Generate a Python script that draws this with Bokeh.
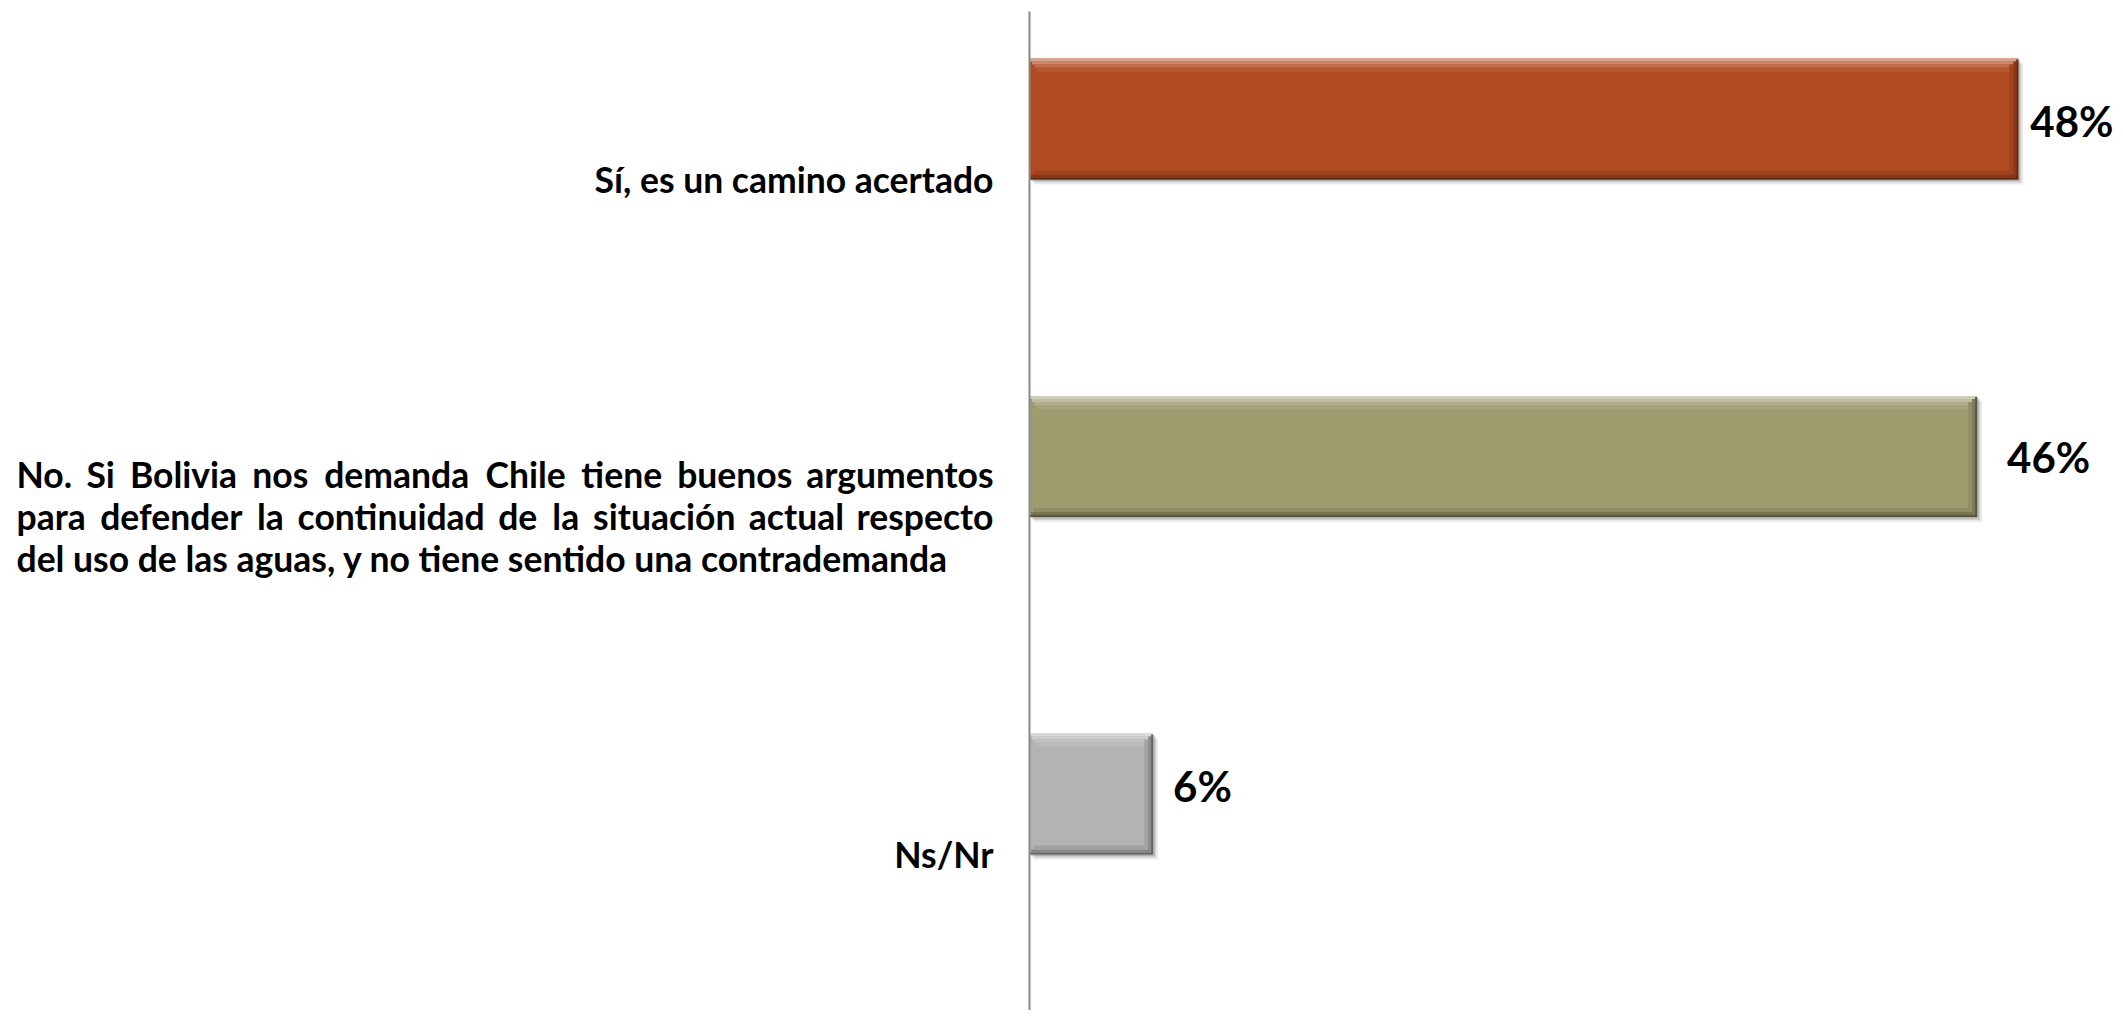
from bokeh.plotting import figure
from bokeh.models import Range1d, ColumnDataSource
from bokeh.core.properties import value
from bokeh.embed import file_html
from bokeh.resources import INLINE

# ---------------- data ----------------
categories = [
    "Sí, es un camino acertado",
    "No. Si Bolivia nos demanda Chile tiene buenos argumentos para defender la continuidad de la situación actual respecto del uso de las aguas, y no tiene sentido una contrademanda",
    "Ns/Nr",
]
category_lines = [
    ["Sí, es un camino acertado"],
    [
        "No. Si Bolivia nos demanda Chile tiene buenos argumentos",
        "para defender la continuidad de la situación actual respecto",
        "del uso de las aguas, y no tiene sentido una contrademanda",
    ],
    ["Ns/Nr"],
]
values = [48, 46, 6]
value_labels = ["48%", "46%", "6%"]
bar_colors = ["#B04A20", "#9E9B6F", "#B3B3B3"]

# ---------------- styling / layout ----------------
FONT = "Lato"
CAT_FS = 35.5
PCT_FS = 42
ORIGIN = 0           # page offset of the figure
W, H = 2123, 1010
PX_X = 20.6          # px per percent unit
PX_Y = 337.5         # px per category band
AXIS_PAGE_X = 1029
CAT0_PAGE_Y = 178.5
xs = -(AXIS_PAGE_X - ORIGIN) / PX_X
xe = xs + W / PX_X
ys_top = (ORIGIN - CAT0_PAGE_Y) / PX_Y
ys_bot = (ORIGIN + H - CAT0_PAGE_Y) / PX_Y

def px_x(v):
    return v / PX_X

def px_y(v):
    return v / PX_Y

def mix(hexc, target, t):
    h = hexc.lstrip("#")
    r, g, b = int(h[0:2], 16), int(h[2:4], 16), int(h[4:6], 16)
    tr, tg, tb = target
    r = round(r + (tr - r) * t)
    g = round(g + (tg - g) * t)
    b = round(b + (tb - b) * t)
    return "#%02x%02x%02x" % (r, g, b)

p = figure(width=W, height=H, output_backend="svg", toolbar_location=None,
           x_axis_location=None, y_axis_location=None,
           x_range=Range1d(xs, xe), y_range=Range1d(ys_bot, ys_top),
           min_border=0, outline_line_color=None, tools="")
p.xgrid.visible = False
p.ygrid.visible = False
p.background_fill_color = "white"
p.border_fill_color = "white"

n = len(values)
idx = list(range(n))
bar_off = -px_y(60)
bar_h = px_y(121)
centers = [i + bar_off for i in idx]

# shadows
for dx, dy, a in [(5, 5, 0.08), (3, 3, 0.12), (1.5, 1.5, 0.15)]:
    p.hbar(y=[c + px_y(dy) for c in centers], height=bar_h,
           left=[px_x(dx) for _ in idx], right=[v + px_x(dx) for v in values],
           fill_color="black", fill_alpha=a, line_color=None)

# main bars
src = ColumnDataSource(dict(y=centers, right=values, color=bar_colors))
p.hbar(y="y", height=bar_h, left=0, right="right", fill_color="color", line_color=None, source=src)

# bevel: top highlight bands
top_bands = [(0, 3, 0.50), (3, 3, 0.34), (6, 3, 0.20), (9, 4, 0.09)]
for off, th, t in top_bands:
    p.hbar(y=[c - bar_h / 2 + px_y(off + th / 2) for c in centers], height=px_y(th),
           left=[px_x(off * 0.8) for _ in idx], right=[v - px_x(off * 0.8) for v in values],
           fill_color=[mix(col, (255, 255, 255), t) for col in bar_colors], line_color=None)
# bottom dark bands
bot_bands = [(0, 2, 0.45), (2, 3, 0.25), (5, 4, 0.10)]
for off, th, t in bot_bands:
    p.hbar(y=[c + bar_h / 2 - px_y(off + th / 2) for c in centers], height=px_y(th),
           left=[px_x(off * 0.8) for _ in idx], right=[v - px_x(off * 0.8) for v in values],
           fill_color=[mix(col, (0, 0, 0), t) for col in bar_colors], line_color=None)
# right dark edge
for off, tw, t in [(0, 2, 0.45), (2, 3, 0.22), (5, 4, 0.08)]:
    p.hbar(y=centers, height=bar_h - px_y(2 * off + 2),
           left=[v - px_x(off + tw) for v in values], right=[v - px_x(off) for v in values],
           fill_color=[mix(col, (0, 0, 0), t) for col in bar_colors], line_color=None)

# axis line
p.segment(x0=[0], y0=[ys_top + px_y(11)], x1=[0], y1=[ys_bot], line_color="#8a8a8a", line_width=2)

# value labels
lab_dx = [12, 30, 20]
lab_dy = [2, 0, -8]
p.text(x=values, y=centers, text=value_labels, x_offset=lab_dx, y_offset=lab_dy,
       text_font=value(FONT), text_font_style="bold", text_font_size=f"{PCT_FS}px",
       text_align="left", text_baseline="middle", text_color="black")

# category labels
L_PAGE, R_PAGE = 16, 993
def to_x(page_x):
    return (page_x - AXIS_PAGE_X) / PX_X

EMW = {'a': .51, 'b': .56, 'c': .46, 'd': .56, 'e': .53, 'f': .33, 'g': .50, 'h': .56,
       'i': .25, 'j': .25, 'l': .25, 'm': .84, 'n': .56, 'o': .56, 'p': .56, 'r': .37,
       's': .43, 't': .36, 'u': .56, 'v': .51, 'y': .51, 'ó': .56, 'í': .25, 'C': .66,
       'B': .64, 'N': .74, 'S': .51, ',': .22, '.': .22}

def est(word):
    return sum(EMW.get(ch, .55) for ch in word) * CAT_FS

LINE_SP = 42
for i, lines in enumerate(category_lines):
    nl = len(lines)
    for j, line in enumerate(lines):
        dy = (j - (nl - 1) / 2) * LINE_SP
        yv = i + px_y(dy)
        justify = nl > 1 and j < nl - 1
        if nl == 1:
            p.text(x=[to_x(R_PAGE)], y=[yv], text=[line], text_font=value(FONT),
                   text_font_style="bold", text_font_size=f"{CAT_FS}px",
                   text_align="right", text_baseline="middle", text_color="black")
        elif not justify:
            p.text(x=[to_x(L_PAGE)], y=[yv], text=[line], text_font=value(FONT),
                   text_font_style="bold", text_font_size=f"{CAT_FS}px",
                   text_align="left", text_baseline="middle", text_color="black")
        else:
            words = line.split(" ")
            ws = [est(w) for w in words]
            gap = (R_PAGE - L_PAGE - sum(ws)) / (len(words) - 1)
            xpos, aligns = [], []
            cur = L_PAGE
            for k, w in enumerate(words):
                if k == 0:
                    xpos.append(to_x(L_PAGE)); aligns.append("left")
                elif k == len(words) - 1:
                    xpos.append(to_x(R_PAGE)); aligns.append("right")
                else:
                    xpos.append(to_x(cur + ws[k] / 2)); aligns.append("center")
                cur += ws[k] + gap
            p.text(x=xpos, y=[yv] * len(words), text=words, text_align=aligns,
                   text_font=value(FONT), text_font_style="bold",
                   text_font_size=f"{CAT_FS}px", text_baseline="middle", text_color="black")

open("out.html", "w").write(file_html(p, INLINE))
